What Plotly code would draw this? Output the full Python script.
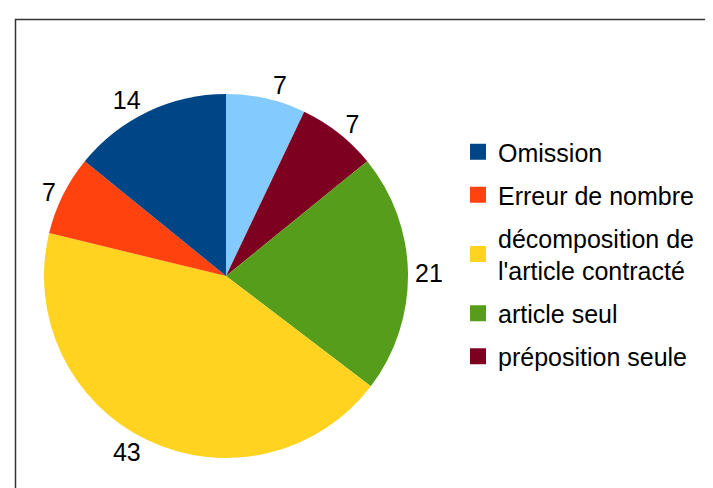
import plotly.graph_objects as go

# Data, in legend order (drawn counterclockwise from 12 o'clock in the reference)
labels = ["Omission", "Erreur de nombre", "décomposition de<br>l'article contracté",
          "article seul", "préposition seule", " "]
values = [14, 7, 43, 21, 7, 7]
colors = ["#004586", "#ff420e", "#ffd320", "#579d1c", "#7e0021", "#83caff"]
legend_count = 5  # the last (light blue) slice has no legend entry

W, H = 713, 488
FONT = "Liberation Sans, Arial, sans-serif"
FS = 25

fig = go.Figure()
# drawn clockwise with the order reversed == counterclockwise in legend order
fig.add_trace(go.Pie(
    labels=labels[::-1], values=values[::-1], sort=False,
    direction="clockwise", rotation=0,
    marker=dict(colors=colors[::-1], line=dict(width=0)),
    textinfo="value", textposition="outside",
    textfont=dict(family=FONT, size=FS, color="black"),
    showlegend=False,
    domain=dict(x=[36 / W, 400 / W], y=[1 - 450 / H, 1 - 86 / H]),
    hoverinfo="label+value",
))

for i in range(legend_count):
    fig.add_trace(go.Scatter(
        x=[None], y=[None], mode="markers", name=labels[i],
        legendgroup=str(i),
        marker=dict(symbol="square", size=16, color=colors[i]),
        hoverinfo="skip",
    ))

fig.update_layout(
    width=W, height=H,
    margin=dict(l=0, r=0, t=0, b=0),
    paper_bgcolor="white", plot_bgcolor="white",
    xaxis=dict(visible=False), yaxis=dict(visible=False),
    legend=dict(
        x=450 / W, y=1 - 121 / H, xanchor="left", yanchor="top",
        font=dict(family=FONT, size=FS, color="black"),
        traceorder="grouped", tracegroupgap=7.5,
        itemsizing="trace", bgcolor="rgba(0,0,0,0)",
    ),
    shapes=[dict(type="rect", xref="paper", yref="paper",
                 x0=7.5 / W, x1=1.05, y0=-0.05, y1=1 - 11.5 / H,
                 line=dict(color="#333333", width=1.5))],
)

fig.write_html("out.html")
